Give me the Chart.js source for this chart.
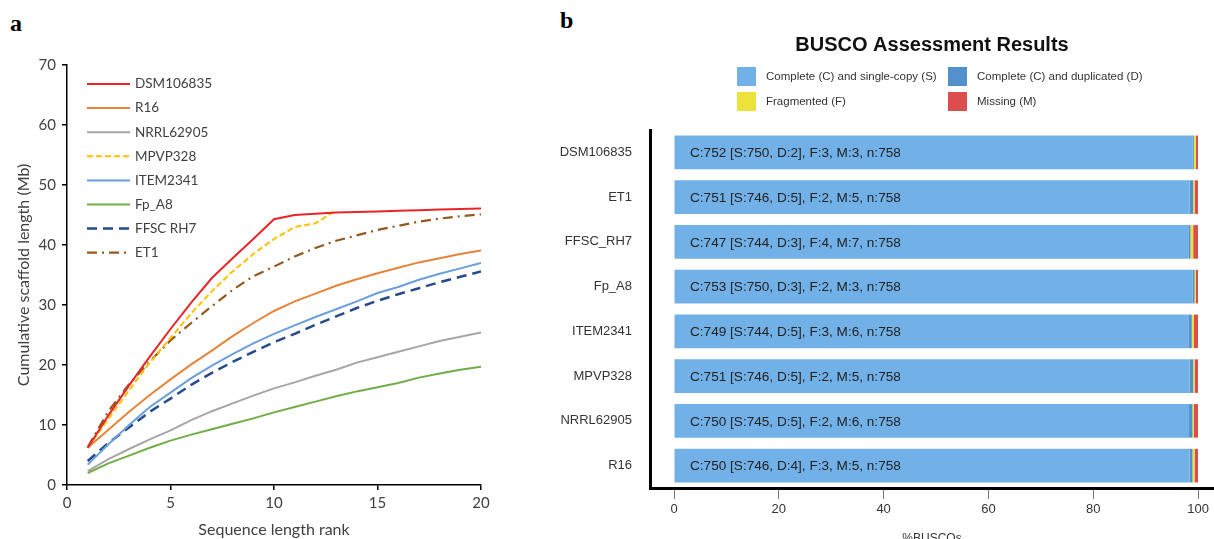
<!DOCTYPE html>
<html>
<head>
<meta charset="utf-8">
<script src="https://cdn.jsdelivr.net/npm/chart.js@4.4.1/dist/chart.umd.min.js"></script>
<style>
  html, body { margin: 0; padding: 0; background: #fff; overflow: hidden; }
  body { width: 1214px; height: 539px; position: relative; }
  .panel { position: absolute; font: bold 24px "Liberation Serif", serif; color: #000; }
  #lineCanvas { position: absolute; left: 0; top: 0; }
  #barCanvas { position: absolute; left: 520px; top: 0; }
</style>
</head>
<body>
<div class="panel" style="left:10px; top:10px;">a</div>
<div class="panel" style="left:560px; top:7px;">b</div>
<canvas id="lineCanvas" width="500" height="539"></canvas>
<canvas id="barCanvas" width="694" height="550"></canvas>
<script>
// panel a - cumulative scaffold length
const ranks = [1, 2, 3, 4, 5, 6, 7, 8, 9, 10, 11, 12, 13, 14, 15, 16, 17, 18, 19, 20];
const dsm106835 = [6.2, 11.6, 16.6, 21.4, 26.0, 30.4, 34.5, 37.8, 41.0, 44.3, 45.0, 45.2, 45.4, 45.5, 45.6, 45.7, 45.8, 45.9, 46.0, 46.1];
const r16 = [6.2, 9.2, 12.2, 15.0, 17.6, 20.1, 22.4, 24.8, 27.0, 29.0, 30.6, 31.9, 33.2, 34.3, 35.3, 36.2, 37.1, 37.8, 38.5, 39.1];
const nrrl62905 = [2.3, 4.3, 6.0, 7.6, 9.1, 10.8, 12.3, 13.6, 14.9, 16.1, 17.1, 18.2, 19.2, 20.4, 21.3, 22.2, 23.1, 24.0, 24.7, 25.4];
const mpvp328 = [6.2, 11.0, 15.8, 20.4, 24.5, 28.6, 32.3, 35.6, 38.5, 41.0, 43.0, 43.6, 45.8, null, null, null, null, null, null, null];
const item2341 = [3.4, 6.8, 10.0, 13.0, 15.4, 17.8, 19.9, 21.8, 23.6, 25.2, 26.6, 28.0, 29.3, 30.6, 32.0, 33.0, 34.2, 35.2, 36.1, 37.0];
const fpA8 = [2.0, 3.6, 4.9, 6.2, 7.4, 8.4, 9.3, 10.2, 11.1, 12.1, 13.0, 13.9, 14.8, 15.6, 16.3, 17.0, 17.9, 18.6, 19.2, 19.7];
const ffscRh7 = [4.0, 7.0, 9.6, 12.2, 14.4, 16.7, 18.7, 20.5, 22.2, 23.8, 25.2, 26.7, 28.1, 29.5, 30.7, 31.8, 32.8, 33.8, 34.7, 35.6];
const et1 = [6.3, 12.3, 16.8, 20.6, 24.1, 27.0, 29.8, 32.5, 34.8, 36.4, 38.1, 39.5, 40.7, 41.6, 42.5, 43.2, 43.9, 44.4, 44.8, 45.1];

// panel b - BUSCO
const strains = ["DSM106835", "ET1", "FFSC_RH7", "Fp_A8", "ITEM2341", "MPVP328", "NRRL62905", "R16"];
const single = [750, 746, 744, 750, 744, 746, 745, 746];
const duplicated = [2, 5, 3, 3, 5, 5, 5, 4];
const fragmented = [3, 2, 4, 2, 3, 2, 2, 3];
const missing = [3, 5, 7, 3, 6, 5, 6, 5];
const total = 758;

const pts = (arr) => ranks.map((r, i) => ({ x: r, y: arr[i] }));
const pct = (arr) => arr.map((v) => (v / total) * 100);

const textGray = "#404040";
const latoFont = "Lato, 'Open Sans', sans-serif";

const lineLegend = {
  id: "lineLegend",
  afterDraw(chart) {
    const ctx = chart.ctx;
    ctx.save();
    chart.data.datasets.forEach((ds, i) => {
      const y = 84 + i * 24.1;
      ctx.strokeStyle = ds.borderColor;
      ctx.lineWidth = ds.borderWidth;
      ctx.setLineDash(ds.borderDash || []);
      ctx.beginPath();
      ctx.moveTo(87, y);
      ctx.lineTo(130, y);
      ctx.stroke();
      ctx.setLineDash([]);
      ctx.fillStyle = textGray;
      ctx.font = "13.5px " + latoFont;
      ctx.textBaseline = "middle";
      ctx.fillText(ds.label, 135, y);
    });
    ctx.restore();
  },
};

const mkLine = (label, arr, color, dash, width) => ({
  label: label,
  data: pts(arr),
  borderColor: color,
  borderWidth: width || 2,
  borderDash: dash || [],
  pointRadius: 0,
  tension: 0,
  fill: false,
  spanGaps: false,
});

new Chart(document.getElementById("lineCanvas").getContext("2d"), {
  type: "line",
  data: {
    datasets: [
      mkLine("DSM106835", dsm106835, "#E8262A"),
      mkLine("R16", r16, "#E5843A"),
      mkLine("NRRL62905", nrrl62905, "#A6A6A6"),
      mkLine("MPVP328", mpvp328, "#FFC000", [6, 3]),
      mkLine("ITEM2341", item2341, "#6A9FDC"),
      mkLine("Fp_A8", fpA8, "#70AD47"),
      mkLine("FFSC RH7", ffscRh7, "#264A8C", [10, 6], 2.5),
      mkLine("ET1", et1, "#95581F", [10, 5, 2, 5], 2.2),
    ],
  },
  options: {
    responsive: false,
    animation: false,
    layout: { padding: { top: 65, right: 19, left: 0, bottom: 0 } },
    scales: {
      x: {
        type: "linear",
        min: 0,
        max: 20,
        afterFit: (s) => { s.height = 54; },
        ticks: { stepSize: 5, color: textGray, font: { family: latoFont, size: 15 }, padding: 4 },
        grid: { display: true, drawOnChartArea: false, drawTicks: true, tickLength: 5, color: "#000", lineWidth: 1.5 },
        border: { display: true, color: "#000", width: 1.5 },
        title: { display: true, text: "Sequence length rank", color: textGray, font: { family: latoFont, size: 16 }, padding: { top: 4, bottom: 0 } },
      },
      y: {
        min: 0,
        max: 70,
        afterFit: (s) => { s.width = 67; },
        ticks: { stepSize: 10, color: textGray, font: { family: latoFont, size: 15 }, padding: 6 },
        grid: { display: true, drawOnChartArea: false, drawTicks: true, tickLength: 5, color: "#000", lineWidth: 1.5 },
        border: { display: true, color: "#000", width: 1.5 },
        title: { display: true, text: "Cumulative scaffold length (Mb)", color: textGray, font: { family: latoFont, size: 16 }, padding: { top: 14, bottom: 0 } },
      },
    },
    plugins: {
      legend: { display: false },
      tooltip: { enabled: false },
    },
  },
  plugins: [lineLegend],
});

// BUSCO bars
const buscoFont = "'Liberation Sans', Arial, sans-serif";

const buscoLegend = {
  id: "buscoLegend",
  afterDraw(chart) {
    const ctx = chart.ctx;
    const spots = [[217, 67], [428, 67], [217, 92], [428, 92]];
    ctx.save();
    chart.data.datasets.forEach((ds, i) => {
      const [x, y] = spots[i];
      ctx.fillStyle = ds.backgroundColor;
      ctx.fillRect(x, y, 19, 19);
      ctx.fillStyle = "#333";
      ctx.font = "11.5px " + buscoFont;
      ctx.textBaseline = "middle";
      ctx.fillText(ds.label, x + 29, y + 10);
    });
    ctx.restore();
  },
};

const barText = {
  id: "barText",
  afterDatasetsDraw(chart) {
    const ctx = chart.ctx;
    const xs = chart.scales.x;
    const ys = chart.scales.y;
    ctx.save();
    ctx.fillStyle = "#222";
    ctx.font = "13.6px " + buscoFont;
    ctx.textBaseline = "middle";
    strains.forEach((s, i) => {
      const c = single[i] + duplicated[i];
      const txt = "C:" + c + " [S:" + single[i] + ", D:" + duplicated[i] + "], F:" + fragmented[i] + ", M:" + missing[i] + ", n:" + total;
      ctx.fillText(txt, xs.getPixelForValue(0) + 16, ys.getPixelForValue(i) + 1);
    });
    ctx.restore();
  },
};

const mkBar = (label, arr, color) => ({
  label: label,
  data: pct(arr),
  backgroundColor: color,
  borderWidth: 0,
  categoryPercentage: 0.75,
  barPercentage: 1,
});

new Chart(document.getElementById("barCanvas").getContext("2d"), {
  type: "bar",
  data: {
    labels: strains,
    datasets: [
      mkBar("Complete (C) and single-copy (S)", single, "#72B1E8"),
      mkBar("Complete (C) and duplicated (D)", duplicated, "#5290CB"),
      mkBar("Fragmented (F)", fragmented, "#EBE23A"),
      mkBar("Missing (M)", missing, "#DC4E4E"),
    ],
  },
  options: {
    indexAxis: "y",
    responsive: false,
    animation: false,
    layout: { padding: { top: 0, right: 0, left: 0, bottom: 0 } },
    scales: {
      x: {
        stacked: true,
        min: -4.58,
        max: 103.05,
        afterBuildTicks: (s) => { s.ticks = [0, 20, 40, 60, 80, 100].map((v) => ({ value: v })); },
        afterFit: (s) => { s.height = 62; },
        ticks: { color: "#333", font: { family: buscoFont, size: 13 }, padding: 3 },
        grid: { display: true, drawOnChartArea: false, drawTicks: true, tickLength: 11, color: "#777", lineWidth: 1 },
        border: { display: true, color: "#000", width: 3 },
        title: { display: true, text: "%BUSCOs", color: "#333", font: { family: buscoFont, size: 12 }, padding: { top: 10, bottom: 4 } },
      },
      y: {
        stacked: true,
        afterFit: (s) => { s.width = 130; },
        ticks: { color: "#333", font: { family: buscoFont, size: 13 }, padding: 18 },
        grid: { display: false, drawTicks: false },
        border: { display: true, color: "#000", width: 3 },
      },
    },
    plugins: {
      legend: { display: false },
      tooltip: { enabled: false },
      title: {
        display: true,
        fullSize: false,
        text: "BUSCO Assessment Results",
        color: "#111",
        font: { family: buscoFont, size: 20, weight: "bold" },
        padding: { top: 33, bottom: 73 },
      },
    },
  },
  plugins: [buscoLegend, barText],
});
</script>
</body>
</html>
